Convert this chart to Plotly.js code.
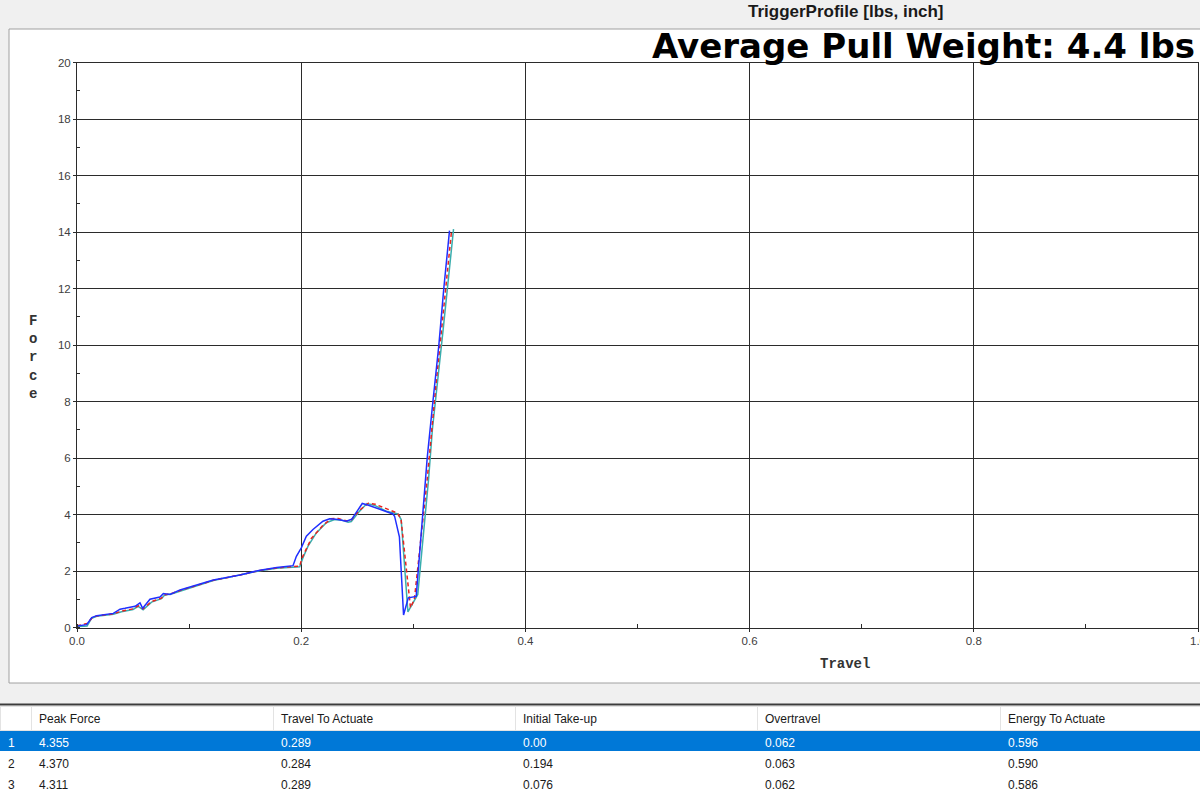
<!DOCTYPE html>
<html>
<head>
<meta charset="utf-8">
<script src="https://cdn.plot.ly/plotly-3.0.1.min.js"></script>
<style>
html,body{margin:0;padding:0;background:#f0f0f0;}
#chart{width:1200px;height:802px;}
</style>
</head>
<body>
<div id="chart"></div>
<script>
// ---- Series data (travel [inch], force [lbs]) ----
const travelBlue = [0, 0.0086, 0.0131, 0.0176, 0.0324, 0.0384, 0.0428, 0.0473, 0.0518, 0.0562, 0.0586, 0.0651, 0.074, 0.077, 0.083, 0.0919, 0.1068, 0.1216, 0.1454, 0.1633, 0.1782, 0.1927, 0.1957, 0.2001, 0.2046, 0.2105, 0.2194, 0.2254, 0.2330, 0.2403, 0.2450, 0.2545, 0.2600, 0.2700, 0.2818, 0.2833, 0.2876, 0.2913, 0.2955, 0.3026, 0.3094, 0.3124, 0.3175, 0.3228, 0.3272, 0.3323];
const forceBlue  = [0.05, 0.10, 0.35, 0.42, 0.50, 0.65, 0.68, 0.72, 0.75, 0.87, 0.68, 1.00, 1.08, 1.20, 1.17, 1.33, 1.50, 1.68, 1.86, 2.03, 2.12, 2.19, 2.52, 2.82, 3.23, 3.47, 3.76, 3.85, 3.82, 3.76, 3.83, 4.39, 4.33, 4.18, 4.02, 3.94, 3.21, 0.44, 1.05, 1.10, 4.65, 6.00, 8.00, 10.00, 12.00, 14.05];

const travelTeal = [0, 0.009, 0.0131, 0.0176, 0.0324, 0.0397, 0.05, 0.0546, 0.059, 0.0665, 0.0754, 0.078, 0.0856, 0.0948, 0.107, 0.1216, 0.1454, 0.1633, 0.1782, 0.1987, 0.2016, 0.2061, 0.2135, 0.2224, 0.2298, 0.2360, 0.2418, 0.2447, 0.2521, 0.2587, 0.2650, 0.2759, 0.2863, 0.2892, 0.2952, 0.2985, 0.3040, 0.3136, 0.3170, 0.3265, 0.3359];
const forceTeal  = [0.03, 0.05, 0.33, 0.40, 0.47, 0.56, 0.64, 0.75, 0.63, 0.90, 1.02, 1.14, 1.20, 1.33, 1.48, 1.66, 1.85, 2.01, 2.10, 2.15, 2.47, 2.88, 3.35, 3.71, 3.82, 3.80, 3.73, 3.75, 4.12, 4.39, 4.33, 4.12, 4.02, 3.82, 0.55, 0.80, 1.17, 5.24, 7.00, 10.50, 14.10];

const travelRed = [0, 0.009, 0.0135, 0.0176, 0.0324, 0.0397, 0.05, 0.0546, 0.059, 0.0665, 0.0754, 0.078, 0.0856, 0.0948, 0.107, 0.1216, 0.1454, 0.1633, 0.1782, 0.1985, 0.2012, 0.209, 0.219, 0.2266, 0.2330, 0.2400, 0.2440, 0.2520, 0.2600, 0.2660, 0.2797, 0.2857, 0.2890, 0.2975, 0.3010, 0.3124, 0.3200, 0.3340];
const forceRed  = [0.06, 0.14, 0.34, 0.41, 0.48, 0.58, 0.66, 0.77, 0.66, 0.92, 1.04, 1.15, 1.22, 1.35, 1.49, 1.67, 1.86, 2.02, 2.11, 2.17, 2.50, 3.15, 3.60, 3.85, 3.86, 3.78, 3.78, 4.15, 4.40, 4.36, 4.15, 4.05, 3.85, 0.70, 1.00, 5.24, 8.50, 14.00];

// ---- Results table ----
const tableHeaders = ["", "Peak Force", "Travel To Actuate", "Initial Take-up", "Overtravel", "Energy To Actuate"];
const rowIndex     = ["1", "2", "3"];
const peakForce    = ["4.355", "4.370", "4.311"];
const travelToAct  = ["0.289", "0.284", "0.289"];
const initialTake  = ["0.00", "0.194", "0.076"];
const overtravel   = ["0.062", "0.063", "0.062"];
const energyToAct  = ["0.596", "0.590", "0.586"];

// ---- Ticks ----
const xTickVals = [0, 0.2, 0.4, 0.6, 0.8, 1.0];
const xTickText = ["0.0", "0.2", "0.4", "0.6", "0.8", "1.0"];
const yTickVals = [0, 2, 4, 6, 8, 10, 12, 14, 16, 18, 20];

const W = 1200, H = 802;
const px = v => v / W;
const py = v => (H - v) / H;

const rowFill = ["#0078d7", "#ffffff", "#ffffff"];
const rowFont = ["#ffffff", "#1a1a1a", "#1a1a1a"];
const nCols = tableHeaders.length;
const fillCols = [], fontCols = [];
for (let c = 0; c < nCols; c++) { fillCols.push(rowFill); fontCols.push(rowFont); }

const traces = [
  {type: "scatter", mode: "lines", x: travelTeal, y: forceTeal, line: {color: "#3aaeae", width: 1.5}, hoverinfo: "skip"},
  {type: "scatter", mode: "lines", x: travelRed, y: forceRed, line: {color: "#e8231f", width: 1.5, dash: "4px,3px"}, hoverinfo: "skip"},
  {type: "scatter", mode: "lines", x: travelBlue, y: forceBlue, line: {color: "#1f2fff", width: 1.5}, hoverinfo: "skip"},
  {
    type: "table",
    domain: {x: [0, 1], y: [0, py(706)]},
    columnwidth: [31, 242, 242, 242, 243, 200],
    header: {
      values: tableHeaders,
      align: "left",
      height: 24,
      fill: {color: "#ffffff"},
      line: {color: "#e3e3e3", width: 1},
      font: {family: "Liberation Sans, Arial, sans-serif", size: 12, color: "#1a1a1a"}
    },
    cells: {
      values: [rowIndex, peakForce, travelToAct, initialTake, overtravel, energyToAct],
      align: "left",
      height: 21,
      fill: {color: fillCols},
      line: {color: fillCols, width: 1},
      font: {family: "Liberation Sans, Arial, sans-serif", size: 12, color: fontCols}
    }
  }
];

const axisFont = {family: "Liberation Sans, Arial, sans-serif", size: 11.5, color: "#404040"};

const layout = {
  width: W, height: H,
  margin: {l: 0, r: 0, t: 0, b: 0, pad: 0},
  paper_bgcolor: "#f0f0f0",
  plot_bgcolor: "rgba(0,0,0,0)",
  showlegend: false,
  xaxis: {
    domain: [px(77), px(1198)],
    range: [0, 1.0],
    tickvals: xTickVals, ticktext: xTickText,
    ticklabeloverflow: "allow",
    showgrid: true, gridcolor: "#2b2b2b", gridwidth: 1,
    showline: true, linecolor: "#2b2b2b", linewidth: 1, mirror: true,
    zeroline: false,
    ticks: "outside", ticklen: 3, tickcolor: "#2b2b2b",
    tickfont: axisFont,
    minor: {dtick: 0.1, tick0: 0, ticks: "inside", ticklen: 4, tickcolor: "#2b2b2b", showgrid: false},
    fixedrange: true
  },
  yaxis: {
    domain: [py(627.5), py(62.5)],
    range: [0, 20],
    tickvals: yTickVals,
    ticklabeloverflow: "allow",
    showgrid: true, gridcolor: "#2b2b2b", gridwidth: 1,
    showline: true, linecolor: "#2b2b2b", linewidth: 1, mirror: true,
    zeroline: false,
    ticks: "outside", ticklen: 3, tickcolor: "#2b2b2b",
    tickfont: axisFont,
    minor: {dtick: 1, tick0: 0, ticks: "inside", ticklen: 3, tickcolor: "#2b2b2b", showgrid: false},
    fixedrange: true
  },
  shapes: [
    {type: "rect", xref: "paper", yref: "paper", x0: px(9), x1: px(1210), y0: py(683), y1: py(29),
     fillcolor: "#ffffff", line: {color: "#a0a0a0", width: 1}, layer: "below"},
    {type: "rect", xref: "paper", yref: "paper", x0: 0, x1: 1, y0: 0, y1: py(705),
     fillcolor: "#ffffff", line: {width: 0}, layer: "below"},
    {type: "line", xref: "paper", yref: "paper", x0: 0, x1: 1, y0: py(704.5), y1: py(704.5),
     line: {color: "#3c3c3c", width: 2}, layer: "above"}
  ],
  annotations: [
    {text: "TriggerProfile [lbs, inch]", xref: "paper", yref: "paper", x: px(846), y: py(12),
     xanchor: "center", yanchor: "middle", showarrow: false,
     font: {family: "Liberation Sans, Arial, sans-serif", size: 17, color: "#1a1a1a", weight: "bold"}},
    {text: "<b>Average Pull Weight: 4.4 lbs</b>", xref: "paper", yref: "paper", x: px(1197), y: py(46),
     xanchor: "right", yanchor: "middle", showarrow: false,
     font: {family: "DejaVu Sans, sans-serif", size: 34, color: "#000000"}},
    {text: "F<br>o<br>r<br>c<br>e", xref: "paper", yref: "paper", x: px(33), y: py(357),
     xanchor: "center", yanchor: "middle", showarrow: false,
     font: {family: "Liberation Mono, Courier New, monospace", size: 14, color: "#333333", weight: "bold"}},
    {text: "Travel", xref: "paper", yref: "paper", x: px(845), y: py(664),
     xanchor: "center", yanchor: "middle", showarrow: false,
     font: {family: "Liberation Mono, Courier New, monospace", size: 14, color: "#333333", weight: "bold"}}
  ]
};

Plotly.newPlot("chart", traces, layout, {displayModeBar: false, staticPlot: true});
</script>
</body>
</html>
